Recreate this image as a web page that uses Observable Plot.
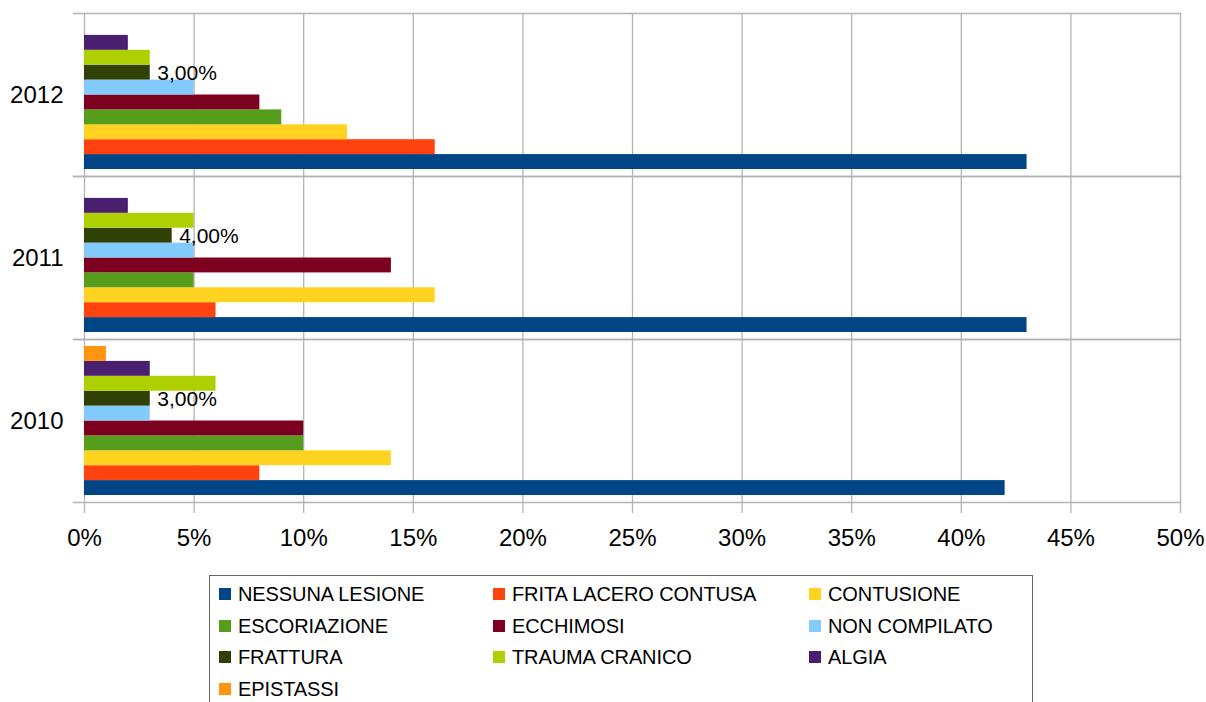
<!DOCTYPE html>
<html>
<head>
<meta charset="utf-8">
<script src="https://cdn.jsdelivr.net/npm/d3@7"></script>
<script src="https://cdn.jsdelivr.net/npm/@observablehq/plot@0.6"></script>
<style>
  html, body { margin: 0; padding: 0; background: #fff; }
  #wrap { position: relative; width: 1206px; height: 702px; overflow: hidden; font-family: "Liberation Sans", Arial, sans-serif; }
  #chart { position: absolute; left: 0; top: 0; }
  #legend { position: absolute; left: 209px; top: 575px; width: 824px; height: 140px; border: 1px solid #666; box-sizing: border-box; }
  .item { position: absolute; height: 24px; line-height: 24px; font-size: 20px; letter-spacing: -0.1px; color: #000; white-space: nowrap; }
  .sw { position: absolute; width: 12px; height: 12px; top: 6px; }
  .lbl { position: absolute; left: 19px; top: 0; }
</style>
</head>
<body>
<div id="wrap">
  <div id="chart"></div>
  <div id="legend"></div>
</div>
<script>
const categories = ["NESSUNA LESIONE", "FRITA LACERO CONTUSA", "CONTUSIONE", "ESCORIAZIONE", "ECCHIMOSI", "NON COMPILATO", "FRATTURA", "TRAUMA CRANICO", "ALGIA", "EPISTASSI"];
const colors = ["#004586", "#ff420e", "#ffd320", "#579d1c", "#7e0021", "#83caff", "#314004", "#aecf00", "#4b1f6f", "#ff950e"];
const years = ["2012", "2011", "2010"];
const values2012 = [43, 16, 12, 9, 8, 5, 3, 3, 2, 0];
const values2011 = [43, 6, 16, 5, 14, 5, 4, 5, 2, 0];
const values2010 = [42, 8, 14, 10, 10, 3, 3, 6, 3, 1];
const labelledCategory = "FRATTURA";
const xTicks = [0, 5, 10, 15, 20, 25, 30, 35, 40, 45, 50];

const series = {"2012": values2012, "2011": values2011, "2010": values2010};
const rows = [];
for (const yr of years) {
  categories.forEach((c, i) => rows.push({year: yr, category: c, value: series[yr][i]}));
}

const grid = "#b3b3b3";
const chart = Plot.plot({
  width: 1206,
  height: 562,
  marginLeft: 84,
  marginRight: 26,
  marginTop: 13,
  marginBottom: 60,
  style: {fontFamily: "'Liberation Sans', Arial, sans-serif", background: "#fff"},
  x: {domain: [0, 50], axis: null},
  y: {domain: categories.slice().reverse(), paddingInner: 0, paddingOuter: 0.47, round: false, axis: null},
  fy: {domain: years, padding: 0, round: false, axis: null, label: null},
  color: {domain: categories, range: colors},
  marks: [
    Plot.gridX(xTicks, {stroke: grid, strokeOpacity: 1, strokeWidth: 1.3}),
    Plot.frame({anchor: "top", stroke: grid, strokeWidth: 1.3, insetLeft: -11}),
    Plot.frame({anchor: "bottom", stroke: grid, strokeWidth: 1.3, insetLeft: -11}),
    Plot.barX(rows, {x: "value", y: "category", fy: "year", fill: "category", insetTop: 0, insetBottom: 0}),
    Plot.text(rows.filter(d => d.category === labelledCategory), {
      x: "value", y: "category", fy: "year",
      text: d => d.value.toFixed(2).replace(".", ",") + "%",
      textAnchor: "start", dx: 7, dy: 1, fontSize: 21, fill: "#000"
    }),
    Plot.axisFy({anchor: "left", tickSize: 0, tickPadding: 21, fontSize: 24, fill: "#000", label: null}),
    Plot.axisX(xTicks, {anchor: "bottom", tickSize: 11, tickPadding: 15, stroke: grid, strokeWidth: 1.3, fill: "#000", fontSize: 24, tickFormat: d => d + "%", label: null})
  ]
});
document.getElementById("chart").appendChild(chart);

// legend
const legend = document.getElementById("legend");
const colX = [9, 283, 599];
const rowY = [6, 37.5, 69, 100.5];
categories.forEach((c, i) => {
  const col = i % 3, row = Math.floor(i / 3);
  const it = document.createElement("div");
  it.className = "item";
  it.style.left = colX[col] + "px";
  it.style.top = rowY[row] + "px";
  const sw = document.createElement("span");
  sw.className = "sw";
  sw.style.background = colors[i];
  const lb = document.createElement("span");
  lb.className = "lbl";
  lb.textContent = c;
  it.appendChild(sw);
  it.appendChild(lb);
  legend.appendChild(it);
});
</script>
</body>
</html>
